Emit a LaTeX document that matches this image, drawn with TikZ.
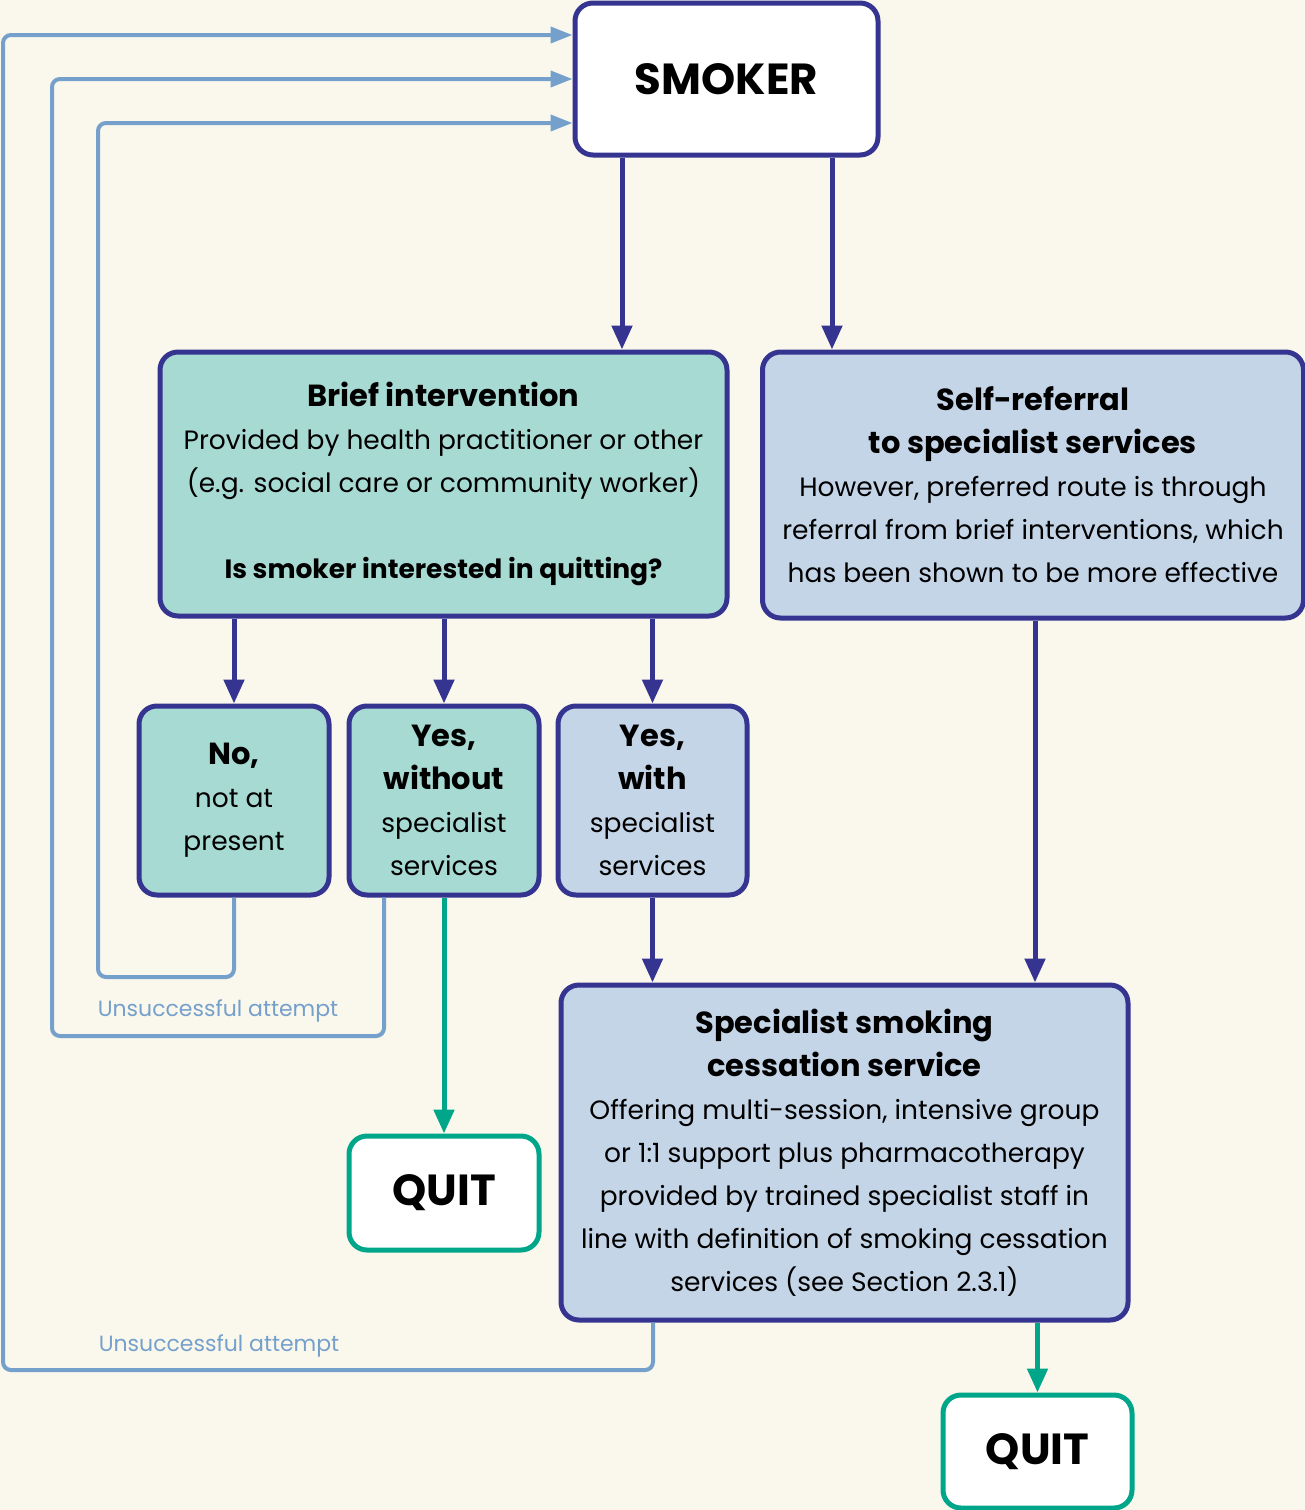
\documentclass[tikz,border=0pt]{standalone}
\usepackage{fontspec}
\setmainfont{Poppins}
\usetikzlibrary{arrows.meta}
\definecolor{bgcream}{RGB}{250,248,236}
\definecolor{frame}{RGB}{53,52,145}
\definecolor{tealfill}{RGB}{168,218,212}
\definecolor{bluefill}{RGB}{197,213,232}
\definecolor{retryblue}{RGB}{117,160,204}
\definecolor{quitgreen}{RGB}{0,166,138}
\tikzset{
  box/.style={draw=frame, line width=5pt, rounded corners=18pt, align=center,
    inner sep=0pt, font=\fontsize{26.5}{43}\selectfont},
  tealbox/.style={box, fill=tealfill},
  bluebox/.style={box, fill=bluefill},
  endbox/.style={box, draw=quitgreen, fill=white, font=\fontsize{43.5}{43}\selectfont\bfseries},
  flow/.style={draw=frame, line width=5pt, -{Triangle[length=24pt,width=20pt]}},
  quitflow/.style={flow, draw=quitgreen},
  retry/.style={draw=retryblue, line width=4pt, rounded corners=8pt},
  retrylabel/.style={text=retryblue, font=\fontsize{22}{26}\selectfont}
}
\newcommand{\head}[1]{{\fontsize{30.5}{43}\selectfont\bfseries #1}}
\begin{document}
\begin{tikzpicture}[x=1pt,y=-1pt]
\useasboundingbox[fill=bgcream] (0,0) rectangle (1305,1510);
% boxes
\node[box, fill=white, minimum width=303pt, minimum height=152pt,
  font=\fontsize{43.5}{43}\selectfont\bfseries] (smoker) at (726.5,79) {SMOKER};
\node[tealbox, minimum width=567pt, minimum height=264pt] (brief) at (443.5,484)
  {\head{Brief intervention}\\
   Provided by health practitioner or other\\
   (e.g. social care or community worker)\\[43pt]
   {\fontsize{26.5}{43}\selectfont\bfseries Is smoker interested in quitting?}};
\node[bluebox, minimum width=541pt, minimum height=266pt] (selfref) at (1033,485)
  {\head{Self-referral}\\
   \head{to specialist services}\\
   However, preferred route is through\\
   referral from brief interventions, which\\
   has been shown to be more effective};
\node[tealbox, minimum width=190pt, minimum height=189pt] (notnow) at (234,800.5)
  {\head{No,}\\ not at\\ present};
\node[tealbox, minimum width=190pt, minimum height=189pt] (yesnospec) at (444,800.5)
  {\head{Yes,}\\ \head{without}\\ specialist\\ services};
\node[bluebox, minimum width=189pt, minimum height=189pt] (yesspec) at (652.5,800.5)
  {\head{Yes,}\\ \head{with}\\ specialist\\ services};
\node[bluebox, minimum width=567pt, minimum height=335pt] (specialist) at (844.5,1152.5)
  {\head{Specialist smoking}\\
   \head{cessation service}\\
   Offering multi-session, intensive group\\
   or 1:1 support plus pharmacotherapy\\
   provided by trained specialist staff in\\
   line with definition of smoking cessation\\
   services (see Section 2.3.1)};
\node[endbox, minimum width=190pt, minimum height=114pt] (quitA) at (444,1193) {QUIT};
\node[endbox, minimum width=189pt, minimum height=113pt] (quitB) at (1037.5,1451.5) {QUIT};
% main flow
\draw[flow] ([xshift=-104.5pt]smoker.south) -- ([xshift=-104.5pt]smoker.south |- brief.north);
\draw[flow] ([xshift=105.5pt]smoker.south) -- ([xshift=105.5pt]smoker.south |- selfref.north);
\draw[flow] (notnow.north |- brief.south) -- (notnow.north);
\draw[flow] (yesnospec.north |- brief.south) -- (yesnospec.north);
\draw[flow] (yesspec.north |- brief.south) -- (yesspec.north);
\draw[flow] (yesspec.south) -- (yesspec.south |- specialist.north);
\draw[flow] ([xshift=2pt]selfref.south) -- ([xshift=2pt]selfref.south |- specialist.north);
\draw[quitflow] (yesnospec.south) -- (quitA.north);
\draw[quitflow] (quitB.north |- specialist.south) -- (quitB.north);
% unsuccessful attempts
\coordinate (loopA) at (98,977);
\coordinate (loopB) at (52,1036);
\coordinate (loopC) at (3,1370);
\draw[retry, -{Triangle[length=22pt,width=16pt]}] (notnow.south) |- (loopA) |- ([yshift=-44pt]smoker.west);
\draw[retry, -{Triangle[length=22pt,width=16pt]}] ([xshift=-60pt]yesnospec.south) |- (loopB) |- (smoker.west);
\draw[retry, -{Triangle[length=22pt,width=16pt]}] ([xshift=-191.5pt]specialist.south) |- (loopC) |- ([yshift=44pt]smoker.west);
\node[retrylabel] (retrytextA) at (218,1011) {Unsuccessful attempt};
\node[retrylabel] (retrytextB) at (219,1346) {Unsuccessful attempt};
\end{tikzpicture}
\end{document}
